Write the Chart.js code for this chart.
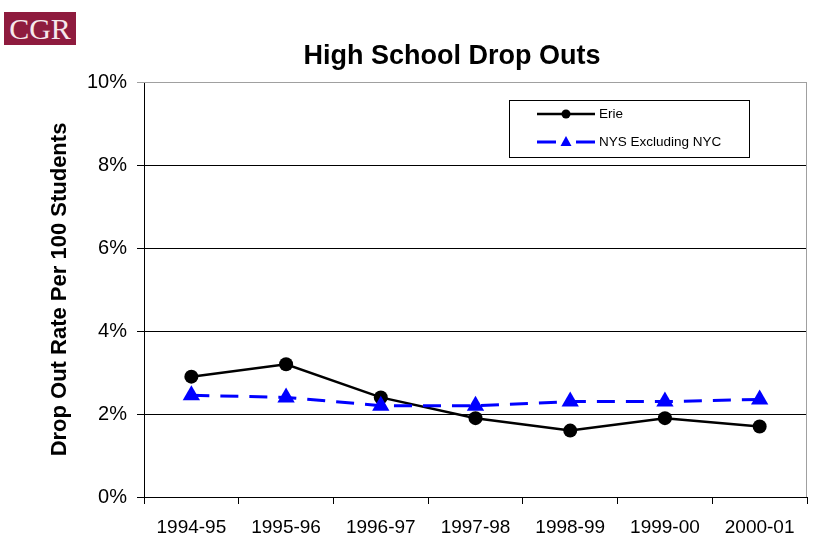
<!DOCTYPE html>
<html>
<head>
<meta charset="utf-8">
<script src="https://cdn.jsdelivr.net/npm/chart.js@4"></script>
<style>
  body { margin: 0; background: #fff; }
  #wrap { position: relative; width: 817px; height: 550px; }
  #logo {
    position: absolute; left: 4px; top: 12px; width: 72px; height: 33px;
    background: #8e1b3e; color: #f6e8ec;
    font: 30px "Liberation Serif", serif; line-height: 34px; text-align: center;
  }
</style>
</head>
<body>
<div id="wrap">
  <canvas id="chart" width="817" height="550"></canvas>
  <div id="logo">CGR</div>
</div>
<script>
// values (percent)
const categories = ["1994-95", "1995-96", "1996-97", "1997-98", "1998-99", "1999-00", "2000-01"];
const erie = [2.9, 3.2, 2.4, 1.9, 1.6, 1.9, 1.7];
const nysExNyc = [2.45, 2.4, 2.2, 2.2, 2.3, 2.3, 2.35];
const seriesNames = ["Erie", "NYS Excluding NYC"];
const chartTitle = "High School Drop Outs";
const yTitle = "Drop Out Rate Per 100 Students";

// titles, gray frame and the boxed legend
const decor = {
  id: "decor",
  afterDraw(chart) {
    const { ctx, chartArea: a } = chart;
    ctx.save();

    ctx.strokeStyle = "#a0a0a0";
    ctx.lineWidth = 1;
    ctx.beginPath();
    ctx.moveTo(a.left, a.top + 0.5);
    ctx.lineTo(a.right - 0.5, a.top + 0.5);
    ctx.lineTo(a.right - 0.5, a.bottom);
    ctx.stroke();

    ctx.fillStyle = "#000";
    ctx.textAlign = "center";
    ctx.textBaseline = "middle";
    ctx.font = "bold 27px 'Liberation Sans', Arial, sans-serif";
    ctx.fillText(chartTitle, 452, 57);

    ctx.save();
    ctx.translate(60, (a.top + a.bottom) / 2);
    ctx.rotate(-Math.PI / 2);
    ctx.font = "bold 22px 'Liberation Sans', Arial, sans-serif";
    ctx.fillText(yTitle, 0, 0);
    ctx.restore();

    // legend
    ctx.fillStyle = "#fff";
    ctx.fillRect(509.5, 100.5, 240, 57);
    ctx.strokeStyle = "#000";
    ctx.strokeRect(509.5, 100.5, 240, 57);

    ctx.lineWidth = 2.5;
    ctx.beginPath();
    ctx.moveTo(537, 114);
    ctx.lineTo(595, 114);
    ctx.stroke();
    ctx.fillStyle = "#000";
    ctx.beginPath();
    ctx.arc(566, 114, 4.5, 0, Math.PI * 2);
    ctx.fill();

    ctx.strokeStyle = "#0000ff";
    ctx.lineWidth = 3;
    ctx.beginPath();
    ctx.moveTo(537, 142); ctx.lineTo(556, 142);
    ctx.moveTo(576, 142); ctx.lineTo(595, 142);
    ctx.stroke();
    ctx.fillStyle = "#0000ff";
    ctx.beginPath();
    ctx.moveTo(566, 136);
    ctx.lineTo(571.5, 146);
    ctx.lineTo(560.5, 146);
    ctx.closePath();
    ctx.fill();

    ctx.fillStyle = "#000";
    ctx.textAlign = "left";
    ctx.font = "13.5px 'Liberation Sans', Arial, sans-serif";
    ctx.fillText(seriesNames[0], 599, 114);
    ctx.fillText(seriesNames[1], 599, 142);

    ctx.restore();
  }
};

new Chart(document.getElementById("chart"), {
  type: "line",
  data: {
    labels: categories,
    datasets: [
      {
        label: seriesNames[0],
        data: erie,
        borderColor: "#000",
        backgroundColor: "#000",
        borderWidth: 2.5,
        pointStyle: "circle",
        pointRadius: 7,
        pointBorderWidth: 0,
        tension: 0,
        order: 1
      },
      {
        label: seriesNames[1],
        data: nysExNyc,
        borderColor: "#0000ff",
        backgroundColor: "#0000ff",
        borderWidth: 3,
        borderDash: [18, 11],
        pointStyle: "triangle",
        pointRadius: 10,
        pointBorderWidth: 0,
        tension: 0,
        order: 0
      }
    ]
  },
  options: {
    responsive: false,
    animation: false,
    layout: { padding: { top: 82, right: 8, left: 0, bottom: 0 } },
    plugins: {
      legend: { display: false },
      title: { display: false },
      tooltip: { enabled: false }
    },
    scales: {
      x: {
        offset: true,
        grid: { offset: true, drawOnChartArea: false, tickLength: 7, color: "#000" },
        border: { color: "#000", width: 1 },
        ticks: {
          color: "#000",
          padding: 12,
          maxRotation: 0,
          font: { family: "'Liberation Sans', Arial, sans-serif", size: 19 }
        },
        afterFit(scale) { scale.height = 53; }
      },
      y: {
        min: 0,
        max: 10,
        grid: {
          tickLength: 7,
          color: (c) => (c.tick && c.tick.value === 10 ? "#a0a0a0" : "#000")
        },
        border: { color: "#000", width: 1 },
        ticks: {
          stepSize: 2,
          color: "#000",
          padding: 10,
          font: { family: "'Liberation Sans', Arial, sans-serif", size: 20 },
          callback: (v) => v + "%"
        },
        afterFit(scale) { scale.width = 144; }
      }
    }
  },
  plugins: [decor]
});
</script>
</body>
</html>
